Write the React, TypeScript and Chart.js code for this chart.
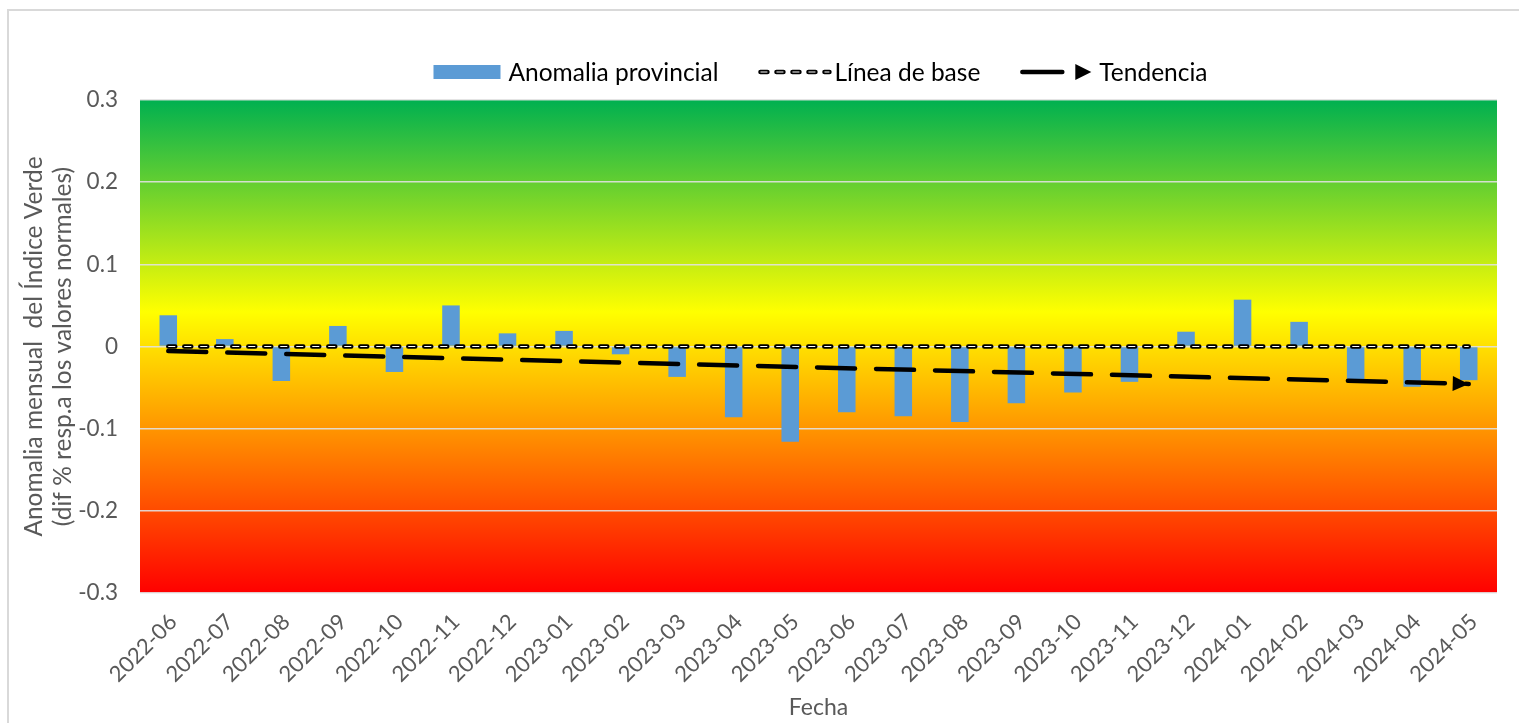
import React, { useEffect, useRef } from "react";
import { Chart, registerables } from "chart.js";

Chart.register(...registerables);

const FONT = "Lato, 'Open Sans', sans-serif";

const categories = [
  "2022-06", "2022-07", "2022-08", "2022-09", "2022-10", "2022-11",
  "2022-12", "2023-01", "2023-02", "2023-03", "2023-04", "2023-05",
  "2023-06", "2023-07", "2023-08", "2023-09", "2023-10", "2023-11",
  "2023-12", "2024-01", "2024-02", "2024-03", "2024-04", "2024-05",
];

const anomaliaProvincial = [
  0.038, 0.009, -0.042, 0.025, -0.031, 0.05,
  0.016, 0.019, -0.0095, -0.037, -0.086, -0.116,
  -0.08, -0.085, -0.092, -0.069, -0.056, -0.043,
  0.018, 0.057, 0.03, -0.041, -0.049, -0.041,
];

const lineaDeBase = [
  0, 0, 0, 0, 0, 0, 0, 0, 0, 0, 0, 0,
  0, 0, 0, 0, 0, 0, 0, 0, 0, 0, 0, 0,
];

// Linear trend: only its two end points are given; the line spans the gap.
const tendencia: (number | null)[] = [
  -0.0055, null, null, null, null, null, null, null, null, null, null, null,
  null, null, null, null, null, null, null, null, null, null, null, -0.0455,
];

const yTickLabels = ["-0.3", "-0.2", "-0.1", "0", "0.1", "0.2", "0.3"];
const yMin = -0.3;
const yMax = 0.3;
const yStep = 0.1;

const legendLabels = ["Anomalia provincial", "Línea de base", "Tendencia"];
const yTitle = ["Anomalia mensual  del Índice Verde", "(dif % resp.a los valores normales)"];
const xTitle = "Fecha";

const BAR_COLOR = "#5b9bd5";
const TEXT_GRAY = "#595959";

const framePlugin = {
  id: "frame",
  beforeDraw(chart: any) {
    const { ctx, chartArea: ca, width, height } = chart;
    ctx.save();
    ctx.strokeStyle = "#d9d9d9";
    ctx.lineWidth = 2;
    ctx.strokeRect(8, 10, width + 10, height + 20);
    const g = ctx.createLinearGradient(0, ca.top, 0, ca.bottom);
    g.addColorStop(0, "#00b050");
    g.addColorStop(0.43, "#ffff00");
    g.addColorStop(1, "#ff0000");
    ctx.fillStyle = g;
    ctx.fillRect(ca.left, ca.top, ca.right - ca.left, ca.bottom - ca.top);
    ctx.restore();
  },
};

const arrowPlugin = {
  id: "trendArrow",
  afterDatasetsDraw(chart: any) {
    const idx = chart.data.datasets.findIndex((d: any) => d.label === legendLabels[2]);
    if (idx < 0) return;
    const pts = chart.getDatasetMeta(idx).data;
    const first = pts[0];
    const last = pts[pts.length - 1];
    if (!first || !last) return;
    const ang = Math.atan2(last.y - first.y, last.x - first.x);
    const ctx = chart.ctx;
    ctx.save();
    ctx.translate(last.x, last.y);
    ctx.rotate(ang);
    ctx.fillStyle = "#000";
    ctx.beginPath();
    ctx.moveTo(0, 0);
    ctx.lineTo(-16, -7.5);
    ctx.lineTo(-16, 7.5);
    ctx.closePath();
    ctx.fill();
    ctx.restore();
  },
};

const legendPlugin = {
  id: "customLegend",
  afterDraw(chart: any) {
    const { ctx, chartArea: ca } = chart;
    ctx.save();
    ctx.font = `24.5px ${FONT}`;
    ctx.textBaseline = "middle";
    ctx.textAlign = "left";
    const symW = [67, 71, 71];
    const gapAfterSym = [8, 5, 8];
    const between = 40;
    const textW = legendLabels.map((l) => ctx.measureText(l).width);
    let total = 0;
    for (let i = 0; i < 3; i++) total += symW[i] + gapAfterSym[i] + textW[i];
    total += between * 2;
    let x = (ca.left + ca.right) / 2 - total / 2 + 2;
    const y = 72;
    // item 1: bar box
    ctx.fillStyle = BAR_COLOR;
    ctx.fillRect(x, y - 7, symW[0], 14);
    x += symW[0] + gapAfterSym[0];
    ctx.fillStyle = "#000";
    ctx.fillText(legendLabels[0], x, y + 1);
    x += textW[0] + between;
    // item 2: baseline dashed
    ctx.lineCap = "round";
    ctx.strokeStyle = "#000";
    ctx.lineWidth = 4.5;
    ctx.setLineDash([7, 9]);
    ctx.beginPath();
    ctx.moveTo(x + 2, y);
    ctx.lineTo(x + symW[1], y);
    ctx.stroke();
    ctx.strokeStyle = "#fff";
    ctx.lineWidth = 1.2;
    ctx.lineCap = "butt";
    ctx.beginPath();
    ctx.moveTo(x + 2, y);
    ctx.lineTo(x + symW[1], y);
    ctx.stroke();
    ctx.setLineDash([]);
    x += symW[1] + gapAfterSym[1];
    ctx.fillStyle = "#000";
    ctx.fillText(legendLabels[1], x, y + 1);
    x += textW[1] + between;
    // item 3: trend line + arrow
    ctx.strokeStyle = "#000";
    ctx.lineWidth = 4.5;
    ctx.lineCap = "round";
    ctx.beginPath();
    ctx.moveTo(x + 2, y);
    ctx.lineTo(x + 42, y);
    ctx.stroke();
    ctx.beginPath();
    ctx.moveTo(x + 55, y - 8);
    ctx.lineTo(x + 71, y);
    ctx.lineTo(x + 55, y + 8);
    ctx.closePath();
    ctx.fill();
    x += symW[2] + gapAfterSym[2];
    ctx.fillText(legendLabels[2], x, y + 1);
    ctx.restore();
  },
};

export default function App() {
  const canvasRef = useRef<HTMLCanvasElement | null>(null);

  useEffect(() => {
    if (!canvasRef.current) return;
    const chart = new Chart(canvasRef.current, {
      type: "bar",
      data: {
        labels: categories,
        datasets: [
          {
            type: "bar",
            label: legendLabels[0],
            data: anomaliaProvincial,
            backgroundColor: BAR_COLOR,
            borderWidth: 0,
            categoryPercentage: 1,
            barPercentage: 0.31,
            order: 4,
          },
          {
            type: "line",
            label: legendLabels[1],
            data: lineaDeBase,
            borderColor: "#000",
            borderWidth: 4.5,
            borderDash: [7, 9],
            borderCapStyle: "round",
            pointRadius: 0,
            fill: false,
            order: 3,
          },
          {
            type: "line",
            label: "base-inner",
            data: lineaDeBase,
            borderColor: "#fff",
            borderWidth: 1.2,
            borderDash: [7, 9],
            borderCapStyle: "butt",
            pointRadius: 0,
            fill: false,
            order: 2,
          },
          {
            type: "line",
            label: legendLabels[2],
            data: tendencia,
            borderColor: "#000",
            borderWidth: 4.5,
            borderDash: [38, 21],
            borderCapStyle: "round",
            spanGaps: true,
            pointRadius: 0,
            fill: false,
            order: 1,
          },
        ] as any,
      },
      options: {
        animation: false,
        responsive: true,
        maintainAspectRatio: false,
        layout: { padding: { left: 19.5, right: 22, top: 100, bottom: 0 } },
        plugins: {
          legend: { display: false },
          tooltip: { enabled: false },
        },
        scales: {
          x: {
            offset: true,
            grid: { display: false, drawTicks: false },
            border: { display: false },
            ticks: {
              autoSkip: false,
              minRotation: 45,
              maxRotation: 45,
              padding: 16,
              labelOffset: 5,
              color: TEXT_GRAY,
              font: { family: FONT, size: 22 },
            },
            title: {
              display: true,
              text: xTitle,
              color: TEXT_GRAY,
              font: { family: FONT, size: 23 },
              padding: { top: 0, bottom: 2 },
            },
            afterFit: (s: any) => {
              s.height = 130;
            },
          },
          y: {
            min: yMin,
            max: yMax,
            grid: {
              color: "rgba(225,225,225,0.9)",
              lineWidth: 1.6,
              drawTicks: false,
            },
            border: { display: false },
            ticks: {
              stepSize: yStep,
              padding: 22,
              color: TEXT_GRAY,
              font: { family: FONT, size: 22.5 },
              callback: (v: any) => {
                const i = Math.round((Number(v) - yMin) / yStep);
                return yTickLabels[i] ?? "";
              },
            },
            title: {
              display: true,
              text: yTitle,
              color: TEXT_GRAY,
              font: { family: FONT, size: 24.5, lineHeight: 1.18 },
              padding: { top: 0, bottom: 0 },
            },
            afterFit: (s: any) => {
              s.width = 120.5;
            },
          },
        },
      },
      plugins: [framePlugin, arrowPlugin, legendPlugin],
    });
    return () => chart.destroy();
  }, []);

  return (
    <div style={{ position: "fixed", left: 0, top: 0, width: 1519, height: 723, background: "#fff" }}>
      <canvas ref={canvasRef} />
    </div>
  );
}
